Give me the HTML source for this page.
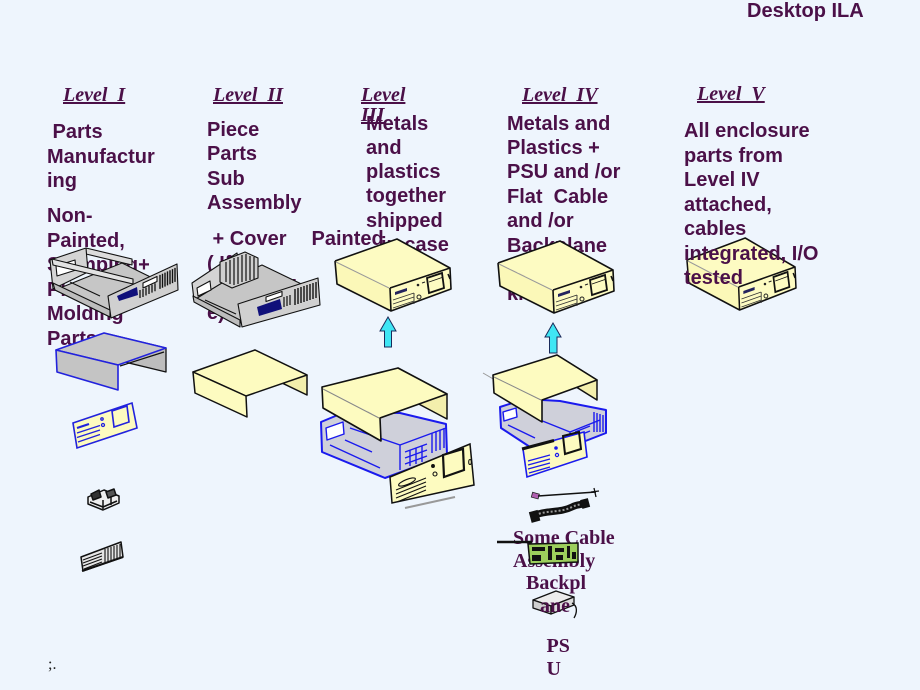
<!DOCTYPE html>
<html><head><meta charset="utf-8">
<style>
html,body{margin:0;padding:0}
body{width:920px;height:690px;background:#eef5fd;position:relative;overflow:hidden}
.t{position:absolute;font-family:"Liberation Sans",Arial,sans-serif;font-weight:bold;font-size:20px;line-height:24.5px;color:#4b1048;white-space:nowrap;z-index:1}
.lv{position:absolute;font-family:"Liberation Serif",serif;font-weight:bold;font-style:italic;font-size:20px;line-height:20px;color:#4b1048;text-decoration:underline;white-space:nowrap;z-index:1}
.s{position:absolute;font-family:"Liberation Serif",serif;font-weight:bold;font-size:20px;line-height:22.7px;color:#4b1048;white-space:nowrap;z-index:1}
svg{position:absolute;left:0;top:0;z-index:2}
</style></head><body>

<div class="t" style="left:747px;top:-1px">Desktop ILA</div>

<div class="lv" style="left:63px;top:85px">Level&nbsp;&nbsp;I</div>
<div class="lv" style="left:213px;top:85px">Level&nbsp;&nbsp;II</div>
<div class="lv" style="left:361px;top:85px">Level<br>III</div>
<div class="lv" style="left:522px;top:85px">Level&nbsp;&nbsp;IV</div>
<div class="lv" style="left:697px;top:84px">Level&nbsp;&nbsp;V</div>

<div class="t" style="left:47px;top:120px">&nbsp;Parts<br>Manufactur<br>ing</div>
<div class="t" style="left:47px;top:204.3px">Non-<br>Painted,<br>Stamping+<br>Plastic<br>Molding<br>Parts</div>

<div class="t" style="left:207px;top:117.8px">Piece<br>Parts<br>Sub<br>Assembly</div>
<div class="t" style="left:207px;top:227.3px">&nbsp;+ Cover<br>( If<br>Applicabl<br>e)</div>
<div class="t" style="left:311.5px;top:227.3px">Painted</div>

<div class="t" style="left:366px;top:111.7px;line-height:24.2px">Metals<br>and<br>plastics<br>together<br>shipped</div>
<div class="t" style="left:381px;top:232.6px;line-height:24.2px">in case</div>

<div class="t" style="left:507px;top:111.6px;line-height:24.4px">Metals and<br>Plastics +<br>PSU and /or<br>Flat&nbsp; Cable<br>and /or<br>Backplane<br>as a<br>kit</div>

<div class="s" style="left:513px;top:526.9px">Some Cable<br>Assembly</div>
<div class="s" style="left:526px;top:571.9px">Backpl</div>
<div class="s" style="left:540px;top:594.9px;z-index:3">ane</div>
<div class="s" style="left:546.5px;top:634.9px">PS<br>U</div>

<div style="position:absolute;left:48px;top:656.6px;font-family:'Liberation Serif',serif;font-size:16px;line-height:16px;color:#222">;.</div>

<svg width="920" height="690" viewBox="0 0 920 690">
<defs>
 <g id="pcbox">
  <polygon points="1,27 63,5 116,34 56,54" fill="#fdfbc2"/>
  <polygon points="1,27 56,54 57,77 3,50" fill="#fbf8b8"/>
  <polygon points="56,54 116,34 117,55 57,77" fill="#fdfbc2"/>
  <path d="M1,27 L63,5 L116,34 L56,54 M1,27 L3,50 L57,77 L117,55 L116,34 M56,54 L57,77" fill="none" stroke="#111" stroke-width="1.6" stroke-linejoin="round"/>
  <line x1="2" y1="28" x2="55" y2="54" stroke="#999" stroke-width="1"/>
  <polygon points="61,58 73,54 73,57 61,61" fill="#23235e"/>
  <circle cx="84" cy="51" r="1.3" fill="#222"/>
  <circle cx="85" cy="63" r="2" fill="none" stroke="#222" stroke-width="1"/>
  <line x1="88" y1="49" x2="91" y2="48" stroke="#222" stroke-width="1"/>
  <polygon points="93,44 108,39 110,54 95,59" fill="none" stroke="#111" stroke-width="1.8"/>
  <line x1="95" y1="48" x2="108" y2="43.5" stroke="#111" stroke-width="0.8"/>
  <path d="M59,66 L80,59 M59,70 L80,63 M59,74 L80,67 M80,59 L80,70" stroke="#333" stroke-width="0.9" fill="none"/>
  <line x1="114" y1="40" x2="116" y2="45" stroke="#111" stroke-width="1.5"/>
 </g>
</defs>

<!-- Level I chassis -->
<g stroke="#111" stroke-width="1.1" stroke-linejoin="round">
 <polygon points="55,290 110,317 177,290 122,263" fill="#c6c6c6"/>
 <polygon points="86,248 132,259 132,265 86,254" fill="#dcdcdc"/>
 <polygon points="50,260 86,248 88,272 53,289" fill="#d4d4d4"/>
 <polygon points="56,266 75,260 76,270 57,276" fill="#fff"/>
 <polygon points="52,259 133,279 133,284 53,265" fill="#e2e2e2"/>
 <line x1="70" y1="282" x2="100" y2="296"/>
 <polygon points="53,283 110,310 110,317 55,290" fill="#bdbdbd"/>
 <polygon points="108,296 177,264 178,290 111,318" fill="#d0d0d0"/>
 <polygon points="117,296 137,287 138,295 119,301" fill="#10107a" stroke="none"/>
 <polygon points="143,283 157,276.5 157,281.5 143,288" fill="#fff"/>
 <path d="M160,274.9 V288.9 M162.5,273.7 V287.7 M165,272.6 V286.6 M167.5,271.4 V285.4 M170,270.2 V284.2 M172.5,269.1 V283.1 M175,267.9 V281.9" stroke-width="1.4"/>
 <path d="M140,290 V298 M143,289 V297 M146,287.5 V295.5 M149,286 V294 M152,284.6 V292.6 M155,283.2 V291.2" stroke-width="1.3"/>
</g>

<!-- Level II chassis -->
<g stroke="#111" stroke-width="1.1" stroke-linejoin="round">
 <polygon points="193,296 240,323 318,292 262,265" fill="#c6c6c6"/>
 <polygon points="192,283 237,253 240,272 194,300" fill="#d4d4d4"/>
 <polygon points="197,288 210,281 211,290 198,296" fill="#fff"/>
 <polygon points="220,262 245,252 258,258 258,278 232,288 220,282" fill="#cfcfcf"/>
 <path d="M226,262 V282 M230,260 V284 M234,258 V285 M238,257 V284 M242,255 V282 M246,254 V281 M250,256 V280 M254,257 V279" stroke-width="1.2"/>
 <line x1="205" y1="300" x2="236" y2="314"/>
 <polygon points="193,296 240,320 240,327 194,302" fill="#bdbdbd"/>
 <polygon points="238,304 318,278 320,305 242,327" fill="#d0d0d0"/>
 <polygon points="257,307 280,299 282,309 259,316" fill="#10107a" stroke="none"/>
 <polygon points="266,297 282,291.5 282,296 266,301.5" fill="#fff"/>
 <path d="M295,289 V305 M298,288 V304 M301,287 V303 M304,286 V302 M307,285 V301 M310,284 V300 M313,283 V299 M316,282 V298" stroke-width="1.4"/>
 <path d="M284,297 V307 M287,296 V306 M290,295 V305" stroke-width="1.2"/>
</g>

<!-- PC boxes -->
<use href="#pcbox" transform="translate(334,234)"/>
<use href="#pcbox" transform="translate(497,236)"/>
<use href="#pcbox" transform="translate(686,233) scale(0.94,1)"/>

<!-- cyan arrows -->
<polygon points="388,317 396,331 391.5,331 391.5,347 384.5,347 384.5,331 380,331" fill="#3fe6f4" stroke="#1a2a5a" stroke-width="1"/>
<polygon points="553,323 561,337 557,337 557,353 549.5,353 549.5,337 545,337" fill="#3fe6f4" stroke="#1a2a5a" stroke-width="1"/>

<!-- Level I gray cover -->
<g stroke-linejoin="round">
 <polygon points="104,333 166,348 166,372 104,357" fill="#bdbdbd" stroke="#111" stroke-width="1.3"/>
 <polygon points="56,350 104,333 166,348 118,365" fill="#c8c8c8" stroke="#2222dd" stroke-width="1.6"/>
 <polygon points="56,350 118,365 118,390 57,372" fill="#c4c4c4" stroke="#2222dd" stroke-width="1.6"/>
 <line x1="120" y1="366" x2="164" y2="352" stroke="#111" stroke-width="1.2"/>
</g>

<!-- Level I bezel -->
<g stroke="#2222dd" fill="none" stroke-width="1.3">
 <polygon points="73,423 132,403 137,428 77,448" fill="#fdfbc0" stroke-width="1.6"/>
 <polygon points="112,411 127,406 129,422 114,427" stroke-width="1.6"/>
 <path d="M77,433 L100,425.5 M77,437.5 L100,430 M78,442 L100,434.5"/>
 <line x1="77" y1="428" x2="89" y2="424" stroke-width="2.2"/>
 <circle cx="102" cy="419" r="1.2"/>
 <circle cx="103" cy="425" r="1.5"/>
</g>

<!-- small bracket -->
<g stroke="#111" stroke-width="1.5" stroke-linejoin="round">
 <polygon points="88,497 104,490 119,496 119,503 103,510 88,504" fill="#eeeeee"/>
 <polygon points="91,494 99,490 101,497 93,500" fill="#333"/>
 <polygon points="106,492 114,489 116,495 108,498" fill="#555"/>
 <path d="M90,502 L103,507 L117,501 M103,500 V509 M111,497 V505" fill="none"/>
</g>

<!-- grille -->
<g stroke="#111" stroke-linejoin="round">
 <polygon points="81,557 121,542 123,557 83,571" fill="#e6e6e6" stroke-width="1.5"/>
 <path d="M83,560 L102,553 M83,563 L102,556 M83,566 L102,559 M84,569 L102,562 M105,549 V563 M108,548 V562 M111,547 V561 M114,546 V560 M117,545 V559 M120,544 V558" stroke-width="1.1" fill="none"/>
 <line x1="82" y1="571" x2="123" y2="557" stroke-width="2"/>
</g>

<!-- Level II yellow cover -->
<g stroke="#111" stroke-width="1.5" stroke-linejoin="round">
 <polygon points="255,350 307,375 307,395 255,370" fill="#f3efac"/>
 <polygon points="193,372 255,350 307,375 246,396" fill="#fdfbc0"/>
 <polygon points="193,372 246,396 247,417 195,393" fill="#fdfbc0"/>
</g>

<!-- Level III assembly -->
<g stroke="#1a1aee" stroke-width="1.4" fill="none" stroke-linejoin="round">
 <polygon points="321,422 345,412 400,413 446,424 447,455 385,478 322,452" fill="#cfd0da" stroke-width="2"/>
 <polygon points="326,428 343,422 344,434 327,440" fill="#fff"/>
 <path d="M330,445 L380,468 M345,440 L372,452 M350,428 L400,445 L400,470 M400,445 L446,428"/>
 <path d="M432,433 v20 M436,431 v20 M440,430 v20 M444,428 v20"/>
 <path d="M405,452 l22,-8 M405,458 l22,-8 M405,464 l22,-8 M410,450 v16 M416,448 v16 M422,446 v16"/>
</g>
<g stroke-linejoin="round">
 <polygon points="398,368 447,394 447,419 398,393" fill="#f3efac" stroke="#111" stroke-width="1.5"/>
 <polygon points="322,387 398,368 447,394 380,418" fill="#fdfbc0"/>
 <polygon points="322,387 380,418 381,441 323,408" fill="#fdfbc0"/>
 <path d="M322,387 L398,368 L447,394 L380,418 L381,441 L323,408 Z" fill="none" stroke="#111" stroke-width="1.6"/>
 <line x1="323" y1="389" x2="379" y2="418" stroke="#888" stroke-width="1"/>
</g>
<g stroke="#111" fill="none" stroke-width="1.1">
 <line x1="405" y1="508" x2="455" y2="497" stroke="#999" stroke-width="2"/>
 <polygon points="390,477 470,444 474,485 392,503" fill="#fdfbc0" stroke-width="1.5"/>
 <polygon points="443,455 463,449 464,470 444,477" stroke-width="2.2"/>
 <ellipse cx="407" cy="482" rx="9" ry="2.5" transform="rotate(-22 407 482)"/>
 <circle cx="433" cy="466" r="1.4" fill="#111"/>
 <circle cx="435" cy="474" r="2"/>
 <path d="M396,490 L426,478 M396,494 L426,482 M396,498 L426,486 M397,502 L426,490"/>
 <ellipse cx="470" cy="462" rx="1.3" ry="2.5"/>
</g>

<!-- Level IV assembly -->
<g stroke="#1a1aee" stroke-width="1.4" fill="none" stroke-linejoin="round">
 <polygon points="500,407 525,399 560,401 606,410 606,433 570,447 530,447 501,428" fill="#cfd0da" stroke-width="2"/>
 <polygon points="503,412 516,408 517,417 504,421" fill="#fff"/>
 <path d="M508,425 L535,438 M540,420 L570,432 L570,445 M570,432 L600,420"/>
 <path d="M594,412 v20 M597,413 v19 M600,414 v18 M603,415 v17"/>
 <path d="M575,432 l15,-6 M575,437 l15,-6"/>
</g>
<line x1="483" y1="373" x2="531" y2="401" stroke="#999" stroke-width="1"/>
<g stroke-linejoin="round">
 <polygon points="557,355 597,380 597,400 557,375" fill="#f3efac" stroke="#111" stroke-width="1.5"/>
 <polygon points="493,375 557,355 597,380 542,400" fill="#fdfbc0"/>
 <polygon points="493,375 542,400 542,422 494,393" fill="#fdfbc0"/>
 <path d="M493,375 L557,355 L597,380 L542,400 L542,422 L494,393 Z" fill="none" stroke="#111" stroke-width="1.6"/>
 <line x1="494" y1="377" x2="541" y2="400" stroke="#888" stroke-width="1"/>
</g>
<g fill="none" stroke-width="1.2">
 <polygon points="523,449 584,432 587,457 527,477" fill="#fdfbc0" stroke="#1a1aee" stroke-width="1.6"/>
 <line x1="522" y1="449" x2="554" y2="440.5" stroke="#111" stroke-width="3"/>
 <polygon points="563,436 579,432 581,449 565,454" stroke="#111" stroke-width="2"/>
 <circle cx="556" cy="448" r="1.2" fill="#1a1aee" stroke="#1a1aee"/>
 <circle cx="557" cy="455" r="1.6" stroke="#1a1aee"/>
 <path d="M528,461 L550,455 M528,465 L550,459 M528,469 L550,463 M529,473 L550,467" stroke="#1a1aee"/>
</g>

<!-- cables -->
<rect x="532" y="493" width="7" height="5" fill="#b060b0" stroke="#222" stroke-width="0.8" transform="rotate(15 535 495)"/>
<path d="M538,496 L596,492" stroke="#111" stroke-width="1.6" fill="none"/>
<path d="M594,488 L596,497 M591,492 L599,491" stroke="#111" stroke-width="1.3" fill="none"/>
<path d="M535,515 C548,510 560,513 572,507 C578,504 582,505 586,503" stroke="#111" stroke-width="7" fill="none"/>
<path d="M535,515 C548,510 560,513 572,507 C578,504 582,505 586,503" stroke="#9a9a9a" stroke-width="2" stroke-dasharray="2 2" fill="none"/>
<rect x="530" y="511" width="9" height="11" fill="#111" transform="rotate(-15 534 516)"/>
<rect x="581" y="499" width="8" height="9" fill="#111" transform="rotate(-15 585 503)"/>

<!-- backplane -->
<line x1="497" y1="542" x2="532" y2="542" stroke="#111" stroke-width="2.5"/>
<polygon points="528,544 578,543 578,562 530,564" fill="#9ccf5c" stroke="#111" stroke-width="1.5"/>
<g fill="#111">
 <rect x="532" y="547" width="13" height="4"/>
 <rect x="532" y="555" width="9" height="6"/>
 <rect x="548" y="546" width="4" height="14"/>
 <rect x="555" y="548" width="9" height="4"/>
 <rect x="556" y="555" width="7" height="5"/>
 <rect x="567" y="546" width="3" height="12"/>
 <rect x="572" y="552" width="4" height="7"/>
</g>

<!-- PSU -->
<g stroke="#111" stroke-width="1.3" stroke-linejoin="round">
 <polygon points="533,600 556,591 574,597 551,606" fill="#ececec"/>
 <polygon points="533,600 551,606 551,614 533,608" fill="#cfcfcf"/>
 <polygon points="551,606 574,597 574,605 551,614" fill="#dcdcdc"/>
 <path d="M572,603 C578,606 577,613 574,618" fill="none"/>
</g>
</svg>

<div class="t" style="left:684px;top:119.1px;z-index:3">All enclosure<br>parts from<br>Level IV<br>attached,<br>cables<br>integrated, I/O<br>tested</div>

</body></html>
